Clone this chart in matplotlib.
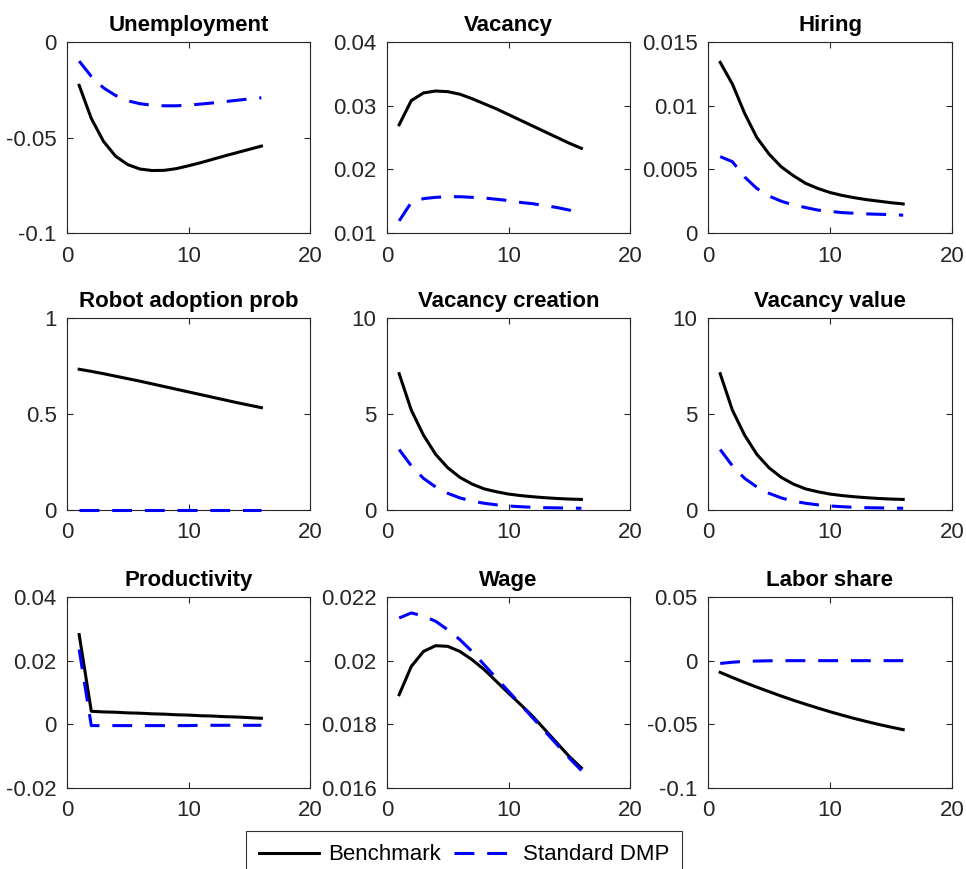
import matplotlib
matplotlib.use("Agg")
import matplotlib.pyplot as plt
import numpy as np

plt.rcParams['font.family'] = ['Liberation Sans', 'DejaVu Sans']

periods = list(range(1, 17))

titles = ["Unemployment", "Vacancy", "Hiring",
          "Robot adoption prob", "Vacancy creation", "Vacancy value",
          "Productivity", "Wage", "Labor share"]

unemp_bench = [-0.0227, -0.0400, -0.0520, -0.0598, -0.0642, -0.0665, -0.0673, -0.0672,
               -0.0663, -0.0648, -0.0632, -0.0614, -0.0596, -0.0579, -0.0562, -0.0545]
unemp_dmp = [-0.0100, -0.0180, -0.0240, -0.0280, -0.0308, -0.0323, -0.0331, -0.0334,
             -0.0334, -0.0330, -0.0325, -0.0319, -0.0312, -0.0305, -0.0298, -0.0292]

vac_bench = [0.0270, 0.0308, 0.0320, 0.0323, 0.0322, 0.0318, 0.0311, 0.0303,
             0.0295, 0.0286, 0.0277, 0.0268, 0.0259, 0.0250, 0.0241, 0.0233]
vac_dmp = [0.0119, 0.0148, 0.0154, 0.0156, 0.0157, 0.0157, 0.0156, 0.0155,
           0.0153, 0.0151, 0.0148, 0.0146, 0.0143, 0.0140, 0.0136, 0.0130]

hire_bench = [0.0134, 0.0117, 0.0094, 0.0075, 0.0062, 0.0052, 0.0045, 0.0039,
              0.0035, 0.00318, 0.00295, 0.00277, 0.00262, 0.00250, 0.00238, 0.00228]
hire_dmp = [0.0060, 0.0056, 0.0044, 0.0035, 0.0029, 0.0025, 0.0022, 0.0020,
            0.0018, 0.0017, 0.0016, 0.00155, 0.0015, 0.00147, 0.00144, 0.0014]

robot_bench = [0.733, 0.722, 0.710, 0.697, 0.684, 0.671, 0.657, 0.643,
               0.629, 0.615, 0.601, 0.587, 0.573, 0.559, 0.546, 0.533]
robot_dmp = [0.0] * 16

vcre_bench = [7.1, 5.2, 3.9, 2.9, 2.2, 1.7, 1.35, 1.1,
              0.95, 0.83, 0.75, 0.69, 0.64, 0.60, 0.57, 0.55]
vcre_dmp = [3.15, 2.3, 1.65, 1.2, 0.87, 0.63, 0.46, 0.35,
            0.27, 0.21, 0.17, 0.14, 0.12, 0.11, 0.10, 0.09]

vval_bench = [7.1, 5.2, 3.9, 2.9, 2.2, 1.7, 1.35, 1.1,
              0.95, 0.83, 0.75, 0.69, 0.64, 0.60, 0.57, 0.55]
vval_dmp = [3.15, 2.3, 1.65, 1.2, 0.87, 0.63, 0.46, 0.35,
            0.27, 0.21, 0.17, 0.14, 0.12, 0.11, 0.10, 0.09]

prod_bench = [0.0282, 0.0041, 0.0039, 0.0038, 0.0036, 0.0035, 0.0033, 0.0032,
              0.0030, 0.0029, 0.0027, 0.0026, 0.0024, 0.0023, 0.0021, 0.0019]
prod_dmp = [0.0235, -0.0004, -0.0004, -0.0004, -0.0004, -0.0004, -0.0004, -0.0004,
            -0.0004, -0.0004, -0.0003, -0.0003, -0.0003, -0.0003, -0.0003, -0.0003]

wage_bench = [0.01893, 0.01982, 0.02029, 0.02047, 0.02045, 0.02029, 0.02003, 0.01972,
              0.01935, 0.01898, 0.01862, 0.01825, 0.01783, 0.01741, 0.01699, 0.01663]
wage_dmp = [0.02134, 0.02150, 0.02140, 0.02124, 0.02097, 0.02066, 0.02029, 0.01987,
            0.01945, 0.01904, 0.01862, 0.01820, 0.01778, 0.01736, 0.01694, 0.01655]

lshare_bench = [-0.0092, -0.0132, -0.0171, -0.0208, -0.0243, -0.0278, -0.0311, -0.0342,
                -0.0372, -0.0401, -0.0428, -0.0454, -0.0478, -0.0501, -0.0522, -0.0542]
lshare_dmp = [-0.0022, -0.0012, -0.0006, -0.0003, -0.0001, 0.0, 0.0, 0.0,
              0.0, 0.0, 0.0, 0.0, 0.0, 0.0, 0.0, 0.0]

bench = [unemp_bench, vac_bench, hire_bench, robot_bench, vcre_bench, vval_bench,
         prod_bench, wage_bench, lshare_bench]
dmp = [unemp_dmp, vac_dmp, hire_dmp, robot_dmp, vcre_dmp, vval_dmp,
       prod_dmp, wage_dmp, lshare_dmp]

ylims = [(-0.1, 0), (0.01, 0.04), (0, 0.015), (0, 1), (0, 10), (0, 10),
         (-0.02, 0.04), (0.016, 0.022), (-0.1, 0.05)]
yticks = [[-0.1, -0.05, 0], [0.01, 0.02, 0.03, 0.04], [0, 0.005, 0.01, 0.015],
          [0, 0.5, 1], [0, 5, 10], [0, 5, 10], [-0.02, 0, 0.02, 0.04],
          [0.016, 0.018, 0.02, 0.022], [-0.1, -0.05, 0, 0.05]]
yticklabels = [["-0.1", "-0.05", "0"], ["0.01", "0.02", "0.03", "0.04"],
               ["0", "0.005", "0.01", "0.015"], ["0", "0.5", "1"],
               ["0", "5", "10"], ["0", "5", "10"], ["-0.02", "0", "0.02", "0.04"],
               ["0.016", "0.018", "0.02", "0.022"], ["-0.1", "-0.05", "0", "0.05"]]
xticks = [0, 10, 20]

fig = plt.figure(figsize=(9.66, 8.69), dpi=100)

lefts = [67 / 966, 387 / 966, 708 / 966]
widths = [243 / 966, 243 / 966, 244 / 966]
tops = [42, 318, 597]
bottoms = [233, 510, 788]

axcol = '#262626'
lines_for_legend = None
for i in range(9):
    r, c = divmod(i, 3)
    ax = fig.add_axes([lefts[c], 1 - bottoms[r] / 869, widths[c], (bottoms[r] - tops[r]) / 869])
    l1, = ax.plot(periods, bench[i], color='black', lw=2.2, label='Benchmark', zorder=3,
                  clip_on=False)
    l2, = ax.plot(periods, dmp[i], color='blue', lw=2.2, dashes=(6.5, 4.2),
                  label='Standard DMP', zorder=3, clip_on=False)
    if lines_for_legend is None:
        lines_for_legend = [l1, l2]
    ax.set_xlim(0, 20)
    ax.set_ylim(*ylims[i])
    ax.set_xticks(xticks)
    ax.set_xticklabels([str(t) for t in xticks])
    ax.set_yticks(yticks[i])
    ax.set_yticklabels(yticklabels[i])
    ax.tick_params(direction='in', top=True, right=True, length=4, width=0.8,
                   labelsize=16, colors=axcol, labelcolor=axcol)
    ax.tick_params(axis='x', pad=9)
    ax.tick_params(axis='y', pad=7.5)
    for s in ax.spines.values():
        s.set_color(axcol)
        s.set_linewidth(0.8)
    ax.set_title(titles[i], fontsize=16, fontweight='bold', pad=8)

leg = fig.legend(lines_for_legend, ['Benchmark', 'Standard DMP'], ncol=2,
                 loc='upper center', bbox_to_anchor=(464 / 966, 1 - 831 / 869),
                 fontsize=16, frameon=True, fancybox=False, edgecolor='black',
                 handlelength=2.7, columnspacing=0.6, handletextpad=0.4,
                 borderpad=0.6, borderaxespad=0)
leg.get_frame().set_linewidth(0.8)

fig.savefig('out.png', dpi=100)
